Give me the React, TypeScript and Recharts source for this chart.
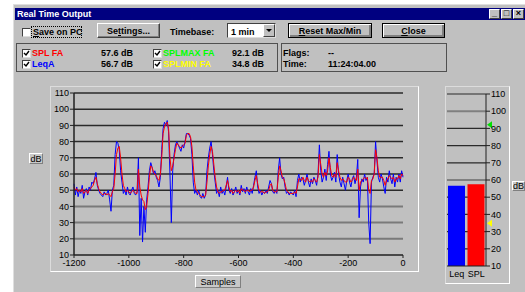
import { LineChart, Line, XAxis, YAxis, CartesianGrid, BarChart, Bar, Cell, ReferenceLine } from "recharts";

// samples every 5 points, -1200 .. 0
const leqA = [
  54, 47, 52, 46, 50, 48, 53, 45, 49, 51,
  47, 52, 50, 55, 54, 57, 61, 53, 50, 48,
  47, 46, 49, 47, 48, 50, 44, 37, 50, 53,
  72, 80, 79, 75, 62, 55, 48, 50, 47, 52,
  48, 47, 50, 52, 48, 47, 49, 70, 22, 45,
  18, 40, 24, 44, 52, 62, 67, 64, 60, 62,
  58, 56, 52, 58, 75, 88, 92, 90, 93, 86,
  60, 30, 62, 72, 78, 80, 78, 76, 74, 78,
  76, 80, 85, 85, 84, 82, 72, 55, 48, 50,
  47, 50, 46, 45, 48, 45, 47, 62, 70, 76,
  80, 72, 62, 55, 48, 50, 46, 52, 48, 50,
  47, 52, 58, 50, 48, 51, 47, 49, 52, 48,
  50, 47, 53, 49, 51, 48, 52, 49, 47, 51,
  48, 53, 58, 62, 52, 48, 50, 47, 49, 48,
  50, 48, 52, 56, 54, 49, 48, 50, 48, 62,
  70, 60, 57, 58, 52, 48, 49, 47, 49, 48,
  47, 50, 46, 56, 60, 55, 58, 57, 53, 56,
  60, 55, 52, 57, 54, 58, 56, 53, 60, 78,
  62, 55, 58, 63, 56, 66, 74, 60, 56, 58,
  61, 55, 72, 60, 55, 52, 58, 54, 50, 56,
  60, 55, 52, 57, 59, 54, 58, 69, 33, 52,
  57, 55, 60, 56, 58, 30, 17, 55, 58, 60,
  80, 68, 58, 55, 60, 57, 52, 48, 58, 55,
  62, 57, 54, 60, 52, 58, 55, 60, 55, 62, 58,
];

const splFa = [
  52, 50, 51, 49, 50, 49, 51, 48, 49, 50,
  48, 50, 51, 52, 53, 56, 58, 54, 51, 49,
  48, 47, 48, 48, 47, 48, 47, 46, 49, 51,
  60, 72, 76, 77, 70, 60, 53, 51, 49, 50,
  49, 48, 49, 50, 49, 48, 48, 63, 52, 47,
  44, 43, 38, 40, 48, 58, 65, 64, 61, 60,
  59, 57, 56, 60, 70, 85, 89, 91, 92, 88,
  70, 62, 65, 70, 75, 79, 78, 77, 76, 77,
  78, 79, 84, 85, 85, 83, 77, 65, 55, 50,
  49, 48, 47, 46, 46, 46, 47, 55, 65, 72,
  77, 74, 66, 58, 52, 49, 48, 49, 49, 50,
  50, 53, 56, 52, 49, 50, 48, 49, 50, 49,
  50, 48, 51, 50, 50, 49, 50, 50, 49, 50,
  50, 52, 56, 59, 54, 50, 49, 49, 49, 48,
  49, 49, 50, 53, 54, 50, 49, 49, 49, 58,
  65, 62, 58, 57, 54, 50, 49, 48, 48, 48,
  48, 49, 48, 52, 57, 57, 56, 58, 56, 55,
  58, 56, 55, 56, 55, 57, 56, 55, 58, 72,
  66, 60, 58, 61, 59, 62, 70, 64, 59, 58,
  60, 58, 67, 62, 58, 56, 57, 56, 55, 55,
  58, 57, 55, 56, 58, 57, 56, 63, 50, 55,
  56, 57, 58, 57, 58, 50, 48, 56, 57, 60,
  75, 70, 62, 58, 58, 58, 56, 53, 56, 57,
  59, 58, 57, 58, 55, 57, 57, 59, 57, 60, 59,
];

const xTicks = [-1200, -1000, -800, -600, -400, -200, 0];
const yTicks = [10, 20, 30, 40, 50, 60, 70, 80, 90, 100, 110];
const darkGrid = [50, 60, 70, 80, 90, 100, 110];
const lightGrid = [20, 30, 40];

const meterLabels = ["Leq", "SPL"];
const meterValues = [56.7, 57.6];
const meterColors = ["#0000ff", "#ff0000"];
const meterDark = [20, 30, 40, 50, 70, 80, 90, 110];
const meterLimits = [60, 100];
const splMax = 92.1;
const splMin = 34.8;

const series = leqA.map((v, i) => ({ sample: -1200 + i * 5, leq: v, spl: splFa[i] }));
const meter = meterLabels.map((name, i) => ({ name, value: meterValues[i] }));

const FONT = '"Liberation Sans", Arial, Helvetica, sans-serif';
const tickStyle = { fill: "#000", fontSize: 9, fontFamily: FONT };

const Txt = ({ x, y, children, color = "#000", bold = true, size = 9 }: any) => (
  <span
    style={{
      position: "absolute", left: x, top: y, fontSize: size, lineHeight: "10px",
      fontWeight: bold ? 700 : 400, color, whiteSpace: "nowrap", fontFamily: FONT,
    }}
  >
    {children}
  </span>
);

const Check = ({ x, y, on = true }: any) => (
  <div
    style={{
      position: "absolute", left: x, top: y, width: 9, height: 9, boxSizing: "border-box",
      border: "1px solid", borderColor: "#404040 #dcdcdc #dcdcdc #404040", background: "#fff",
    }}
  >
    {on && (
      <svg width={7} height={7} style={{ display: "block" }}>
        <polyline points="1,3 3,5 6,1" fill="none" stroke="#000" strokeWidth={1.4} />
      </svg>
    )}
  </div>
);

const Btn = ({ x, y, w, h, children, strong }: any) => (
  <div
    style={{
      position: "absolute", left: x, top: y, width: w, height: h, boxSizing: "border-box",
      background: "#c0c0c0", border: strong ? "1px solid #000" : "1px solid",
      borderColor: strong ? "#000" : "#fff #404040 #404040 #fff",
      boxShadow: strong ? "inset 1px 1px #fff, inset -2px -2px #808080" : "inset -1px -1px #808080",
      display: "flex", alignItems: "center", justifyContent: "center",
      fontSize: 9, fontWeight: 700, fontFamily: FONT,
    }}
  >
    {children}
  </div>
);

const Tag = ({ x, y, w, h, children }: any) => (
  <div
    style={{
      position: "absolute", left: x, top: y, width: w, height: h, boxSizing: "border-box",
      border: "1px solid", borderColor: "#fff #808080 #808080 #fff", background: "#c8c8c8",
      display: "flex", alignItems: "center", justifyContent: "center", fontSize: 9, fontFamily: FONT,
    }}
  >
    {children}
  </div>
);

const Panel = ({ x, y, w, h, dark }: any) => (
  <div
    style={{
      position: "absolute", left: x, top: y, width: w, height: h, boxSizing: "border-box",
      border: "1px solid", borderColor: dark ? "#505050" : "#dcdcdc #fff #fff #dcdcdc",
    }}
  />
);

const marker = (color: string) => (props: any) => {
  const vb = props.viewBox || {};
  const tx = vb.x + vb.width + 1;
  const ty = vb.y;
  return <polygon points={`${tx},${ty} ${tx + 5},${ty - 3.5} ${tx + 5},${ty + 3.5}`} fill={color} />;
};

export default function App() {
  return (
    <div style={{ position: "absolute", left: 0, top: 0, width: 525, height: 292, background: "#fff", overflow: "hidden" }}>
      <div style={{ position: "absolute", left: 13, top: 4, width: 512, height: 288, background: "#c0c0c0", boxSizing: "border-box", borderLeft: "1px solid #dfdfdf", borderTop: "1px solid #dfdfdf" }} />

      {/* title bar */}
      <div style={{ position: "absolute", left: 15, top: 8, width: 510, height: 12, background: "#000080" }} />
      <Txt x={17} y={9} color="#fff">Real Time Output</Txt>
      {["_", "□", "×"].map((g, i) => (
        <div
          key={g}
          style={{
            position: "absolute", left: 489 + i * 12, top: 9, width: 11, height: 10, boxSizing: "border-box",
            background: "#c0c0c0", border: "1px solid", borderColor: "#fff #404040 #404040 #fff",
            fontSize: 9, lineHeight: "7px", textAlign: "center", fontWeight: 700, fontFamily: FONT,
          }}
        >
          {g}
        </div>
      ))}

      {/* control row */}
      <Check x={22} y={28} on={false} />
      <div style={{ position: "absolute", left: 31, top: 26, width: 51, height: 12, border: "1px dotted #000", boxSizing: "border-box" }} />
      <Txt x={33} y={27}><u>S</u>ave on PC</Txt>
      <Btn x={97} y={23} w={63} h={15}>Se<u>t</u>tings...</Btn>
      <Txt x={170} y={27}>Timebase:</Txt>
      <div style={{ position: "absolute", left: 227, top: 23, width: 49, height: 15, boxSizing: "border-box", background: "#fff", border: "1px solid", borderColor: "#404040 #dcdcdc #dcdcdc #404040" }} />
      <Txt x={231} y={27}>1 min</Txt>
      <div style={{ position: "absolute", left: 263, top: 24, width: 12, height: 13, boxSizing: "border-box", background: "#c0c0c0", border: "1px solid", borderColor: "#fff #404040 #404040 #fff" }}>
        <svg width={10} height={11} style={{ display: "block" }}>
          <polygon points="2,4 8,4 5,7" fill="#000" />
        </svg>
      </div>
      <Btn x={288} y={23} w={84} h={15} strong><u>R</u>eset Max/Min</Btn>
      <Btn x={382} y={23} w={63} h={15} strong><u>C</u>lose</Btn>

      {/* readouts */}
      <Panel x={16} y={43} w={262} h={29} dark />
      <Check x={22} y={49} />
      <Txt x={32} y={48} color="#ff0000">SPL FA</Txt>
      <Txt x={101} y={48}>57.6  dB</Txt>
      <Check x={153} y={49} />
      <Txt x={163} y={48} color="#00ff00">SPLMAX FA</Txt>
      <Txt x={232} y={48}>92.1  dB</Txt>
      <Check x={22} y={60} />
      <Txt x={32} y={59} color="#0000ff">LeqA</Txt>
      <Txt x={101} y={59}>56.7  dB</Txt>
      <Check x={153} y={60} />
      <Txt x={163} y={59} color="#ffff00">SPLMIN FA</Txt>
      <Txt x={232} y={59}>34.8  dB</Txt>

      <Panel x={281} y={43} w={166} h={29} dark />
      <Txt x={283} y={48}>Flags:</Txt>
      <Txt x={328} y={48}>--</Txt>
      <Txt x={283} y={59}>Time:</Txt>
      <Txt x={328} y={59}>11:24:04.00</Txt>

      {/* main time chart */}
      <Panel x={50} y={86} w={369} h={186} />
      <div style={{ position: "absolute", left: 50, top: 86 }}>
        <LineChart width={369} height={185} data={series} margin={{ top: 7, right: 16, bottom: 0, left: 0 }}>
          <CartesianGrid vertical={false} horizontalValues={darkGrid} stroke="#2a2a2a" strokeWidth={1.5} />
          <CartesianGrid vertical={false} horizontalValues={lightGrid} stroke="#7a7a7a" strokeWidth={2} />
          <XAxis
            type="number" dataKey="sample" domain={[-1200, 0]} ticks={xTicks} interval={0}
            height={16} tickSize={3} tickMargin={2} stroke="#202020" tick={tickStyle}
            axisLine={{ stroke: "#202020", strokeWidth: 1.5 }}
          />
          <YAxis
            type="number" domain={[10, 110]} ticks={yTicks} interval={0} width={24}
            tickSize={4} tickMargin={1} stroke="#202020" tick={tickStyle}
            axisLine={{ stroke: "#202020", strokeWidth: 1.5 }}
          />
          <Line dataKey="leq" stroke="#0000ff" strokeWidth={1} dot={false} isAnimationActive={false} />
          <Line dataKey="spl" stroke="#ff0000" strokeWidth={1} dot={false} isAnimationActive={false} />
        </LineChart>
      </div>
      <Tag x={29} y={153} w={14} h={11}>dB</Tag>
      <Tag x={195} y={275} w={46} h={13}>Samples</Tag>

      {/* level meter */}
      <Panel x={445} y={86} w={65} h={198} />
      <div style={{ position: "absolute", left: 445, top: 86 }}>
        <BarChart width={64} height={197} data={meter} margin={{ top: 8, right: 0, bottom: 0, left: 2 }} barCategoryGap={1}>
          <CartesianGrid vertical={false} horizontalValues={meterDark} stroke="#2a2a2a" strokeWidth={1.2} />
          <CartesianGrid vertical={false} horizontalValues={meterLimits} stroke="#808080" strokeWidth={2} />
          <XAxis
            dataKey="name" height={17} tickSize={3} tickMargin={2} tickLine={false}
            stroke="#202020" tick={tickStyle} interval={0}
          />
          <YAxis
            orientation="right" type="number" domain={[10, 110]} ticks={yTicks} interval={0}
            width={23} tickSize={4} tickMargin={1} stroke="#202020" tick={tickStyle}
          />
          <Bar dataKey="value" barSize={17} isAnimationActive={false}>
            {meter.map((m, i) => (
              <Cell key={m.name} fill={meterColors[i]} />
            ))}
          </Bar>
          <ReferenceLine y={splMax} stroke="none" label={marker("#00e000")} />
          <ReferenceLine y={splMin} stroke="none" label={marker("#ffff00")} />
        </BarChart>
      </div>
      <Tag x={512} y={181} w={13} h={10}>dB</Tag>
    </div>
  );
}
